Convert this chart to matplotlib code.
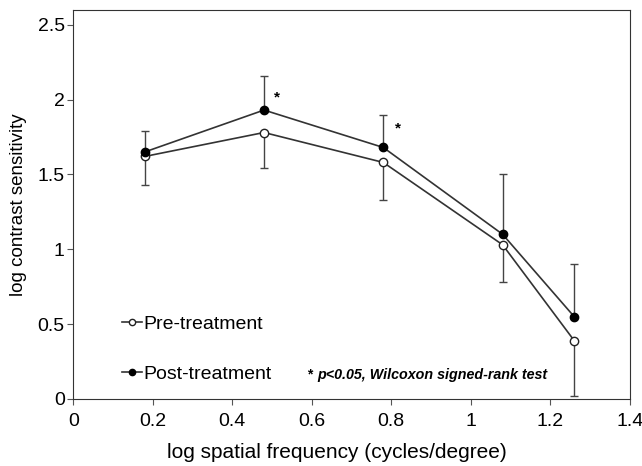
import numpy as np
import matplotlib.pyplot as plt
from matplotlib.lines import Line2D

plt.rcParams['font.family'] = ['Liberation Sans', 'DejaVu Sans']

freq = [0.18, 0.48, 0.78, 1.08, 1.26]
pre = [1.62, 1.78, 1.58, 1.03, 0.39]
post = [1.65, 1.93, 1.68, 1.10, 0.55]
pre_err_low = [0.19, 0.24, 0.25, 0.25, 0.37]
post_err_up = [0.14, 0.23, 0.22, 0.40, 0.35]
sig_x = [0.513, 0.817]
sig_y = [1.97, 1.76]

fig = plt.figure(figsize=(6.42, 4.66), dpi=100)
ax = fig.add_axes([0.114, 0.144, 0.867, 0.835])

zeros = np.zeros(len(freq))
ax.errorbar(freq, pre, yerr=[pre_err_low, zeros], color='#333333', lw=1.2,
            marker='o', ms=6, mfc='white', mec='#222222', mew=1,
            ecolor='#444444', elinewidth=1, capsize=3, capthick=1, zorder=3)
ax.errorbar(freq, post, yerr=[zeros, post_err_up], color='#333333', lw=1.2,
            marker='o', ms=6, mfc='black', mec='black', mew=1,
            ecolor='#444444', elinewidth=1, capsize=3, capthick=1, zorder=3)

for x, y in zip(sig_x, sig_y):
    ax.text(x, y, '*', fontsize=11, fontweight='bold', ha='center', va='bottom')

ax.text(0.588, 0.165, '*', fontsize=10, fontweight='bold', va='center')
ax.text(0.614, 0.16, 'p<0.05, Wilcoxon signed-rank test', fontsize=10.3,
        fontweight='bold', style='italic', va='center')

handles = [Line2D([], [], color='#333333', lw=1.2, marker='o', ms=4.5,
                  mfc='white', mec='#222222'),
           Line2D([], [], color='#333333', lw=1.2, marker='o', ms=4.5,
                  mfc='black', mec='black')]
ax.legend(handles, ['Pre-treatment', 'Post-treatment'], loc='center left',
          bbox_to_anchor=(0.088, 0.128), frameon=False, fontsize=14,
          labelspacing=1.65, handlelength=1.0, handletextpad=0.1,
          borderpad=0, borderaxespad=0)

ax.set_xlim(0, 1.4)
ax.set_ylim(0, 2.6)
ax.set_xticks([0, 0.2, 0.4, 0.6, 0.8, 1, 1.2, 1.4])
ax.set_xticklabels(['0', '0.2', '0.4', '0.6', '0.8', '1', '1.2', '1.4'])
ax.set_yticks([0, 0.5, 1, 1.5, 2, 2.5])
ax.set_yticklabels(['0', '0.5', '1', '1.5', '2', '2.5'])
ax.tick_params(labelsize=14, length=4, color='#555555')
ax.tick_params(axis='x', pad=6)
ax.tick_params(axis='y', pad=2)
ax.set_xlabel('log spatial frequency (cycles/degree)', fontsize=15)
ax.xaxis.set_label_coords(0.473, -0.113)
ax.set_ylabel('log contrast sensitivity', fontsize=13.5, labelpad=8)
for s in ax.spines.values():
    s.set_color('#333333')

fig.savefig('out.png', dpi=100)
